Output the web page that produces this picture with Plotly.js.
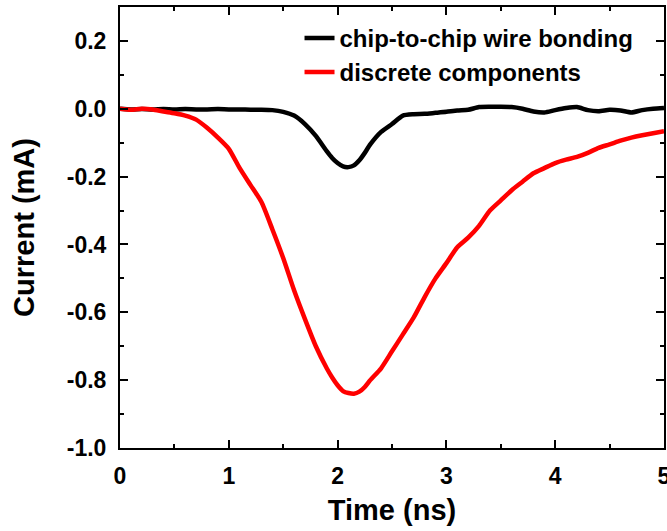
<!DOCTYPE html>
<html>
<head>
<meta charset="utf-8">
<script src="https://cdn.plot.ly/plotly-3.0.1.min.js"></script>
<style>html,body{margin:0;padding:0;background:#fff;}#chart{width:667px;height:531px;}</style>
</head>
<body>
<div id="chart"></div>
<script>
// Time (ns)
var timeNs = [0,0.1,0.2,0.3,0.4,0.5,0.6,0.7,0.8,0.9,1.0,1.1,1.2,1.3,1.4,1.5,1.6,1.7,1.8,1.9,1.95,2.0,2.05,2.1,2.15,2.2,2.25,2.3,2.4,2.5,2.6,2.7,2.8,2.9,3.0,3.1,3.2,3.3,3.4,3.5,3.6,3.7,3.8,3.9,4.0,4.1,4.2,4.3,4.4,4.5,4.6,4.7,4.8,4.9,5.0];
// chip-to-chip wire bonding current (mA)
var wireBonding = [0,-0.002,-0.001,-0.002,-0.001,-0.002,-0.001,-0.002,-0.002,-0.001,-0.002,-0.002,-0.003,-0.003,-0.004,-0.009,-0.02,-0.045,-0.08,-0.125,-0.145,-0.16,-0.17,-0.172,-0.167,-0.152,-0.13,-0.105,-0.068,-0.045,-0.02,-0.016,-0.015,-0.012,-0.009,-0.005,-0.003,0.005,0.006,0.006,0.005,0.0,-0.008,-0.011,-0.004,0.002,0.005,-0.004,-0.007,-0.003,-0.005,-0.011,-0.004,0.0,0.002];
// discrete components current (mA)
var discrete = [0,-0.003,0,-0.002,-0.008,-0.013,-0.02,-0.032,-0.056,-0.085,-0.118,-0.175,-0.225,-0.275,-0.355,-0.44,-0.535,-0.62,-0.70,-0.765,-0.792,-0.815,-0.832,-0.838,-0.84,-0.834,-0.82,-0.80,-0.765,-0.715,-0.665,-0.615,-0.555,-0.50,-0.455,-0.408,-0.38,-0.345,-0.30,-0.27,-0.24,-0.215,-0.19,-0.175,-0.16,-0.15,-0.142,-0.13,-0.115,-0.105,-0.094,-0.085,-0.078,-0.072,-0.066];

var seriesNames = ['chip-to-chip wire bonding', 'discrete components'];
var xTickVals = [0,1,2,3,4,5];
var xTickText = ['0','1','2','3','4','5'];
var yTickVals = [-1.0,-0.8,-0.6,-0.4,-0.2,0.0,0.2];
var yTickText = ['-1.0','-0.8','-0.6','-0.4','-0.2','0.0','0.2'];

var font = 'Liberation Sans, Arial, sans-serif';

var traces = [
  {x: timeNs, y: wireBonding, name: seriesNames[0], type: 'scatter', mode: 'lines',
   line: {color: '#000000', width: 4.5, shape: 'spline', smoothing: 0.6}},
  {x: timeNs, y: discrete, name: seriesNames[1], type: 'scatter', mode: 'lines',
   line: {color: '#ff0000', width: 4.5, shape: 'spline', smoothing: 0.6}}
];

var axisCommon = {
  showline: true, linecolor: '#000', linewidth: 2, mirror: 'ticks',
  ticks: 'inside', ticklen: 8, tickwidth: 2, tickcolor: '#000',
  showgrid: false, zeroline: false, ticklabeloverflow: 'allow',
  tickfont: {family: font, size: 23, color: '#000', weight: 'bold'}
};

var layout = {
  width: 667, height: 531,
  margin: {l: 120, r: 3, t: 7, b: 83},
  paper_bgcolor: '#fff', plot_bgcolor: '#fff',
  showlegend: true,
  legend: {x: 0.33, y: 0.98, xanchor: 'left', yanchor: 'top', bgcolor: 'rgba(0,0,0,0)',
           font: {family: font, size: 24, color: '#000', weight: 'bold'}, tracegroupgap: 0},
  xaxis: Object.assign({}, axisCommon, {
    range: [0, 5], tickvals: xTickVals, ticktext: xTickText,
    minor: {ticks: 'inside', ticklen: 4, tickwidth: 2, tickcolor: '#000', dtick: 0.5},
    ticklabelstandoff: 6,
    title: {text: 'Time (ns)', font: {family: font, size: 29, color: '#000', weight: 'bold'}, standoff: 12}
  }),
  yaxis: Object.assign({}, axisCommon, {
    range: [-1.0, 0.3], tickvals: yTickVals, ticktext: yTickText,
    minor: {ticks: 'inside', ticklen: 4, tickwidth: 2, tickcolor: '#000', dtick: 0.1},
    ticklabelstandoff: 7,
    title: {text: 'Current (mA)', font: {family: font, size: 29, color: '#000', weight: 'bold'}, standoff: 24}
  })
};

Plotly.newPlot('chart', traces, layout, {displayModeBar: false, staticPlot: true});
</script>
</body>
</html>
